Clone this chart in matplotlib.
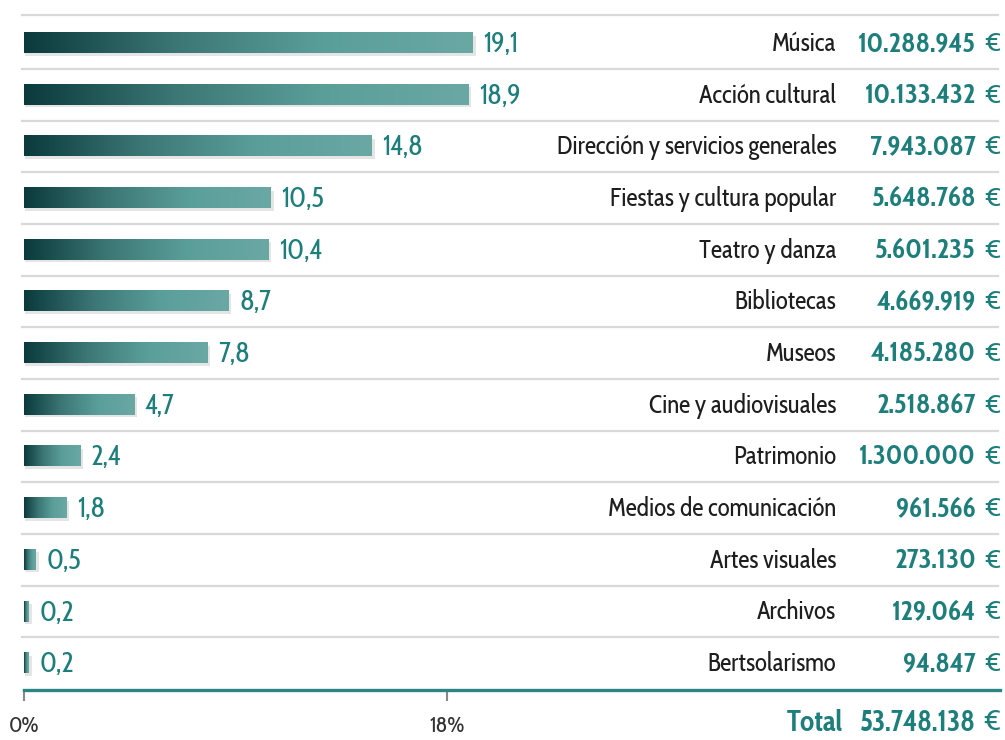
import matplotlib
matplotlib.use("Agg")
import matplotlib.pyplot as plt
import numpy as np
from matplotlib.colors import LinearSegmentedColormap
from matplotlib.patches import Rectangle

categories = ["Música", "Acción cultural", "Dirección y servicios generales",
              "Fiestas y cultura popular", "Teatro y danza", "Bibliotecas", "Museos",
              "Cine y audiovisuales", "Patrimonio", "Medios de comunicación",
              "Artes visuales", "Archivos", "Bertsolarismo"]
percent = [19.1, 18.9, 14.8, 10.5, 10.4, 8.7, 7.8, 4.7, 2.4, 1.8, 0.5, 0.2, 0.2]
pct_labels = ["19,1", "18,9", "14,8", "10,5", "10,4", "8,7", "7,8", "4,7", "2,4",
              "1,8", "0,5", "0,2", "0,2"]
amounts = ["10.288.945", "10.133.432", "7.943.087", "5.648.768", "5.601.235",
           "4.669.919", "4.185.280", "2.518.867", "1.300.000", "961.566",
           "273.130", "129.064", "94.847"]
total_label = "53.748.138"
xticks = [0, 18]
xtick_labels = ["0%", "18%"]

plt.rcParams["font.family"] = ["Cabin Condensed", "Roboto", "DejaVu Sans"]

W, H = 1005, 740
fig = plt.figure(figsize=(W / 100, H / 100), dpi=100)
ax_left, ax_right = 24, 1000
ax_top, ax_bot = 12, 690
ax = fig.add_axes([ax_left / W, 1 - ax_bot / H, (ax_right - ax_left) / W, (ax_bot - ax_top) / H])
scale = 23.5
ax.set_xlim(0, (ax_right - ax_left) / scale)
ax.set_ylim(12.52, -0.6)

teal = "#1d7f7c"
cmap = LinearSegmentedColormap.from_list("g", ["#0b3a3c", "#3b7674", "#5a9e9a", "#6aa8a4"])
grad = np.linspace(0, 1, 256).reshape(1, -1)
bh = 0.39
n = len(categories)
for i, v in enumerate(percent):
    ax.add_patch(Rectangle((0.06, i - bh / 2 + 0.05), v + 0.06, bh, color="#d4d4d4",
                           alpha=0.6, lw=0, zorder=1))
    ax.imshow(grad, extent=[0, v, i + bh / 2, i - bh / 2], cmap=cmap,
              aspect="auto", zorder=2, interpolation="bilinear")
    ax.text(v + 0.45, i + 0.04, pct_labels[i], color=teal, fontsize=20,
            va="center", ha="left", zorder=3)
ax.set_xlim(0, (ax_right - ax_left) / scale)
ax.set_ylim(12.52, -0.6)

for yy in [-0.54] + [i + 0.5 for i in range(n - 1)]:
    ax.axhline(yy, xmin=-0.002, xmax=0.998, color="#d9d9d9", lw=1.6, zorder=0, clip_on=False)

tr = ax.get_yaxis_transform()
span = ax_right - ax_left
lab_x = (836 - ax_left) / span
num_x = (976 - ax_left) / span
eur_x = 1.0
for i in range(n):
    ax.text(lab_x, i + 0.02, categories[i], transform=tr, ha="right", va="center",
            fontsize=18, color="#1e1e1e")
    ax.text(num_x, i + 0.02, amounts[i], transform=tr, ha="right", va="center",
            fontsize=20, color=teal, fontweight="bold")
    ax.text(eur_x, i + 0.02, "€", transform=tr, ha="right", va="center",
            fontsize=19, color=teal)

ty = 13.16
ax.text((843 - ax_left) / span, ty, "Total", transform=tr, ha="right",
        va="center", fontsize=21, color=teal, fontweight="bold", clip_on=False)
ax.text(num_x, ty, total_label, transform=tr, ha="right", va="center",
        fontsize=20.5, color=teal, fontweight="bold", clip_on=False)
ax.text(eur_x, ty, "€", transform=tr, ha="right", va="center",
        fontsize=20, color=teal, clip_on=False)

for s in ["top", "right", "left"]:
    ax.spines[s].set_visible(False)
ax.spines["bottom"].set_color("#2a8583")
ax.spines["bottom"].set_linewidth(2.4)
ax.set_yticks([])
ax.set_xticks(xticks)
ax.set_xticklabels(xtick_labels, fontsize=16, color="#333333")
ax.tick_params(axis="x", length=8, width=1.5, color="#888888", pad=10)

fig.savefig("out.png", dpi=100)
